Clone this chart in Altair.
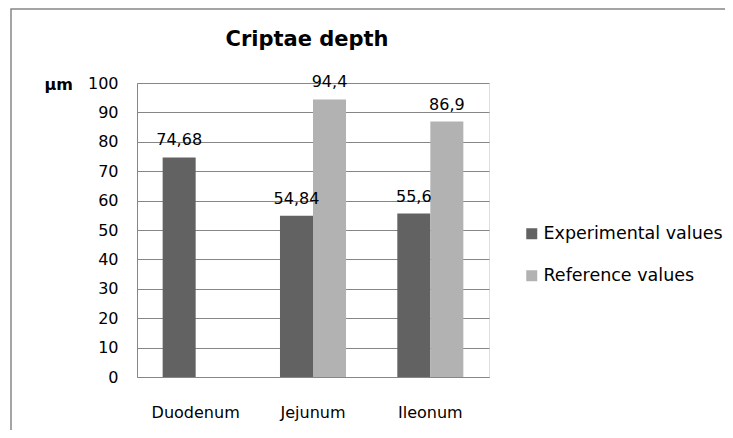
import altair as alt
import pandas as pd

categories = ["Duodenum", "Jejunum", "Ileonum"]
series_names = ["Experimental values", "Reference values"]
experimental = [74.68, 54.84, 55.6]
reference = [None, 94.4, 86.9]
y_ticks = [0, 10, 20, 30, 40, 50, 60, 70, 80, 90, 100]

rows = []
for cat, e, r in zip(categories, experimental, reference):
    for name, v in ((series_names[0], e), (series_names[1], r)):
        if v is not None:
            rows.append({"category": cat, "series": name, "value": v,
                         "label": str(v).replace(".", ",")})
df = pd.DataFrame(rows)

FONT = "DejaVu Sans"
GRID = "#868686"

x_enc = alt.X("category:N", sort=categories,
              scale=alt.Scale(paddingInner=0, paddingOuter=0),
              axis=alt.Axis(title=None, ticks=False, labelAngle=0, labelFont=FONT,
                            labelFontSize=16, labelColor="#000000", labelPadding=27,
                            domainColor=GRID, grid=False))
xoff_enc = alt.XOffset("series:N", sort=series_names,
                       scale=alt.Scale(domain=series_names, paddingInner=0, paddingOuter=0.777))
y_enc = alt.Y("value:Q", scale=alt.Scale(domain=[0, 100], nice=False),
              axis=alt.Axis(title="µm", titleAngle=0, titleFont=FONT, titleFontSize=16,
                            titleFontWeight="bold", titleColor="#000000", titleAlign="left",
                            titleBaseline="alphabetic", titleX=-93, titleY=6,
                            values=y_ticks, tickCount=11, labelOverlap=False, ticks=False,
                            labelFont=FONT, labelFontSize=16,
                            labelColor="#000000", labelPadding=19, domainColor=GRID,
                            gridColor=GRID, gridWidth=1))

base = alt.Chart(df).encode(x=x_enc, xOffset=xoff_enc, y=y_enc)

bars = base.mark_bar().encode(
    color=alt.Color("series:N", sort=series_names,
                    scale=alt.Scale(domain=series_names, range=["#626262", "#b2b2b2"]),
                    legend=alt.Legend(title=None, orient="none", legendX=386, legendY=142,
                                      symbolType="square", symbolSize=121, symbolStrokeWidth=0,
                                      labelFont=FONT, labelFontSize=17.5, labelColor="#000000",
                                      labelOffset=3, rowPadding=23, labelLimit=400)),
)

labels = base.mark_text(dy=-12, baseline="alphabetic", font=FONT, fontSize=16,
                        color="#000000").encode(text="label:N")

border = alt.Chart(pd.DataFrame({"k": [0]})).mark_rect(
    fill="transparent", stroke=GRID, strokeWidth=1.5, clip=False
).encode(
    x=alt.value(-126), x2=alt.value(700), y=alt.value(-74), y2=alt.value(400)
)

chart = alt.layer(border, bars, labels).properties(
    width=352, height=294,
    title=alt.Title("Criptae depth", font=FONT, fontSize=21, fontWeight="bold",
                    color="#000000", anchor="middle", dx=-6, baseline="alphabetic",
                    offset=-59),
    autosize=alt.AutoSizeParams(type="none"),
    padding={"left": 129, "top": 75, "right": 236, "bottom": 53},
).configure_view(strokeWidth=0).configure(background="white")

chart.save("out.html", embed_options={"renderer": "svg", "actions": False})
